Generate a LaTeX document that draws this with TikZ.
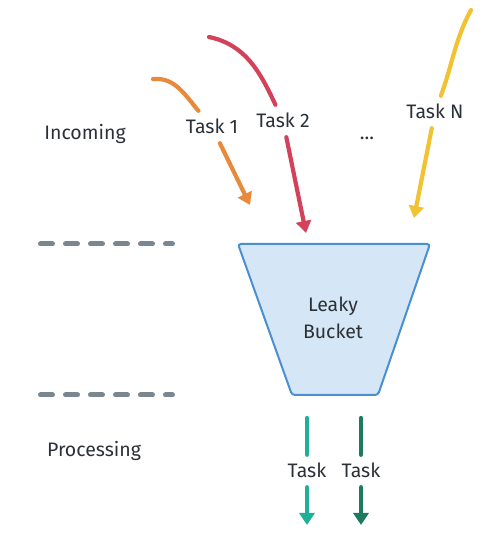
\documentclass[tikz,border=0pt]{standalone}
\usepackage{fontspec}
\setmainfont{Fira Sans}
\usetikzlibrary{arrows.meta}

\definecolor{inkdark}{HTML}{2B3137}
\definecolor{sepgray}{HTML}{7A8791}
\definecolor{taskorange}{HTML}{E8893B}
\definecolor{taskred}{HTML}{D2435B}
\definecolor{taskyellow}{HTML}{F1C232}
\definecolor{taskteal}{HTML}{20B09A}
\definecolor{taskgreen}{HTML}{1E7A5F}
\definecolor{bucketfill}{HTML}{D5E7F6}
\definecolor{bucketline}{HTML}{4A90D0}

\begin{document}
\begin{tikzpicture}[x=1pt, y=1pt,
    lbl/.style={font=\fontsize{19.5}{27}\selectfont, text=inkdark},
    tasklbl/.style={lbl, text height=13.4pt, text depth=0pt, inner xsep=4pt, inner ysep=9.3pt},
    flow/.style={line width=4.2pt, line cap=round},
    tip/.style={-{Triangle[width=15pt,length=12pt]}},
    sepline/.style={sepgray, line width=5pt, line cap=round, dash pattern=on 12pt off 13pt}
]
    \useasboundingbox (0,0) rectangle (497,542);

    % zones
    \node[lbl] (incoming) at (85,408) {Incoming};
    \node[lbl] (processing) at (94,91) {Processing};
    \draw[sepline] (40.5,298) -- (172.5,298);
    \draw[sepline] (40.5,147) -- (172.5,147);

    % bucket
    \draw[fill=bucketfill, draw=bucketline, line width=2pt, rounded corners=3pt]
        (238,298) -- (430,298) -- (378,147) -- (292,147) -- cycle;
    \node[lbl, align=center] (bucket) at (333,224) {Leaky\\Bucket};

    % incoming tasks
    \coordinate (t1tail) at (153,463);
    \coordinate (t1tip) at (250,337);
    \coordinate (t2tail) at (209,505);
    \coordinate (t2tip) at (306,309);
    \coordinate (tNtail) at (471,532);
    \coordinate (tNtip) at (414,324);

    \node[tasklbl] (task1) at (212,415) {Task 1};
    \node[tasklbl] (task2) at (283,421) {Task 2};
    \node[tasklbl] (taskN) at (435,430) {Task N};
    \node[lbl] (dots) at (367,404) {...};

    \draw[flow, taskorange] (t1tail) to[out=5, in=130] (task1);
    \draw[flow, tip, taskorange] (task1) -- (t1tip);
    \draw[flow, taskred] (t2tail) to[out=-12, in=115] (task2);
    \draw[flow, tip, taskred] (task2) -- (t2tip);
    \draw[flow, taskyellow] (tNtail) to[out=-118, in=70] (taskN);
    \draw[flow, tip, taskyellow] (taskN) -- (tNtip);

    % processed tasks
    \coordinate (p1top) at (307,124);
    \coordinate (p1tip) at (307,17);
    \coordinate (p2top) at (361,124);
    \coordinate (p2tip) at (361,17);

    \node[tasklbl] (proc1) at (307,71) {Task};
    \node[tasklbl] (proc2) at (361,71) {Task};

    \draw[flow, taskteal] (p1top) -- (proc1);
    \draw[flow, tip, taskteal] (proc1) -- (p1tip);
    \draw[flow, taskgreen] (p2top) -- (proc2);
    \draw[flow, tip, taskgreen] (proc2) -- (p2tip);
\end{tikzpicture}
\end{document}
